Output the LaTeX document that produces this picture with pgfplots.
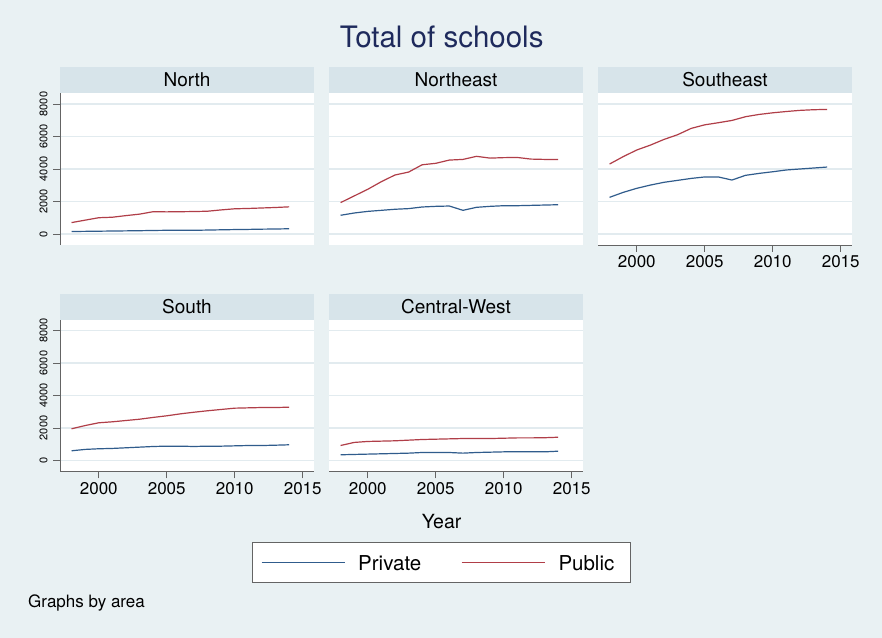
\documentclass[border=0pt]{standalone}
\usepackage{fontspec}
\setmainfont{TeX Gyre Heros}
\usepackage{pgfplots}
\usepackage{pgfplotstable}
\pgfplotsset{compat=1.18}

\definecolor{bgc}{RGB}{233,241,243}
\definecolor{stripc}{RGB}{215,228,234}
\definecolor{gridc}{RGB}{226,235,239}
\definecolor{privc}{RGB}{48,92,140}
\definecolor{pubc}{RGB}{176,62,72}
\definecolor{titlec}{RGB}{30,42,92}
\definecolor{axc}{RGB}{100,100,100}

% year, private, public
\pgfplotstableread{
year priv pub
1998 150 700
1999 160 850
2000 170 1000
2001 180 1030
2002 190 1130
2003 200 1220
2004 215 1370
2005 225 1360
2006 230 1370
2007 225 1380
2008 240 1400
2009 255 1480
2010 270 1550
2011 280 1570
2012 295 1600
2013 305 1630
2014 320 1670
}\north

\pgfplotstableread{
year priv pub
1998 1150 1930
1999 1290 2340
2000 1390 2750
2001 1455 3220
2002 1520 3630
2003 1560 3810
2004 1660 4260
2005 1700 4350
2006 1720 4550
2007 1455 4590
2008 1640 4780
2009 1700 4670
2010 1740 4700
2011 1740 4710
2012 1760 4610
2013 1780 4590
2014 1800 4590
}\northeast

\pgfplotstableread{
year priv pub
1998 2255 4305
1999 2560 4760
2000 2810 5170
2001 3010 5470
2002 3180 5820
2003 3300 6110
2004 3420 6500
2005 3510 6720
2006 3510 6850
2007 3320 6990
2008 3610 7220
2009 3730 7360
2010 3830 7460
2011 3940 7540
2012 4000 7610
2013 4060 7650
2014 4120 7670
}\southeast

\pgfplotstableread{
year priv pub
1998 595 1950
1999 680 2150
2000 720 2320
2001 740 2380
2002 780 2460
2003 820 2540
2004 860 2650
2005 880 2750
2006 880 2870
2007 860 2970
2008 880 3060
2009 880 3140
2010 900 3220
2011 920 3240
2012 920 3260
2013 940 3260
2014 965 3280
}\south

\pgfplotstableread{
year priv pub
1998 350 920
1999 370 1110
2000 390 1170
2001 410 1190
2002 430 1210
2003 450 1250
2004 490 1290
2005 490 1310
2006 490 1330
2007 450 1350
2008 490 1350
2009 510 1350
2010 530 1370
2011 530 1390
2012 530 1390
2013 530 1400
2014 570 1430
}\centralwest

\pgfplotsset{
  panel/.style={
    scale only axis, width=254bp, height=152bp,
    anchor=south west,
    xmin=1997.15, xmax=2015.83, ymin=-680, ymax=8680,
    axis x line*=bottom, axis y line*=left,
    axis background/.style={fill=white},
    xtick={2000,2005,2010,2015}, ytick={0,2000,...,8000},
    ymajorgrids, major grid style={gridc, line width=1.2bp},
    tick align=outside, major tick length=7bp,
    tick style={axc, line width=0.8bp},
    axis line style={axc, line width=0.8bp},
    /pgf/number format/assume math mode=true,
    /pgf/number format/1000 sep={},
    xticklabel style={font=\fontsize{17bp}{20bp}\selectfont},
    yticklabel style={font=\fontsize{11bp}{13bp}\selectfont, rotate=90, anchor=south, yshift=2bp},
  },
  noxaxis/.style={x axis line style={draw=none}, xticklabels={}, xtick style={draw=none}},
  noyaxis/.style={y axis line style={draw=none}, yticklabels={}, ytick style={draw=none}},
  priv/.style={privc, line width=1.2bp, no marks},
  pub/.style={pubc, line width=1.2bp, no marks},
}

\newcommand{\strip}[2]{%
  \fill[stripc] (#1.north west) rectangle ([yshift=26bp]#1.north east);
  \node[font=\fontsize{19bp}{22bp}\selectfont, inner sep=0] at ([yshift=13bp]#1.north) {#2};
}

\begin{document}
\begin{tikzpicture}
\fill[bgc] (0,0) rectangle (882bp,638bp);
\useasboundingbox (0,0) rectangle (882bp,638bp);

\begin{axis}[panel, noxaxis, name=p1, at={(60bp,393bp)}]
\addplot[priv] table[x=year, y=priv] {\north};
\addplot[pub] table[x=year, y=pub] {\north};
\end{axis}

\begin{axis}[panel, noxaxis, noyaxis, name=p2, at={(329bp,393bp)}]
\addplot[priv] table[x=year, y=priv] {\northeast};
\addplot[pub] table[x=year, y=pub] {\northeast};
\end{axis}

\begin{axis}[panel, noyaxis, name=p3, at={(598bp,393bp)}]
\addplot[priv] table[x=year, y=priv] {\southeast};
\addplot[pub] table[x=year, y=pub] {\southeast};
\end{axis}

\begin{axis}[panel, name=p4, at={(60bp,166.5bp)}]
\addplot[priv] table[x=year, y=priv] {\south};
\addplot[pub] table[x=year, y=pub] {\south};
\end{axis}

\begin{axis}[panel, noyaxis, name=p5, at={(329bp,166.5bp)}]
\addplot[priv] table[x=year, y=priv] {\centralwest};
\addplot[pub] table[x=year, y=pub] {\centralwest};
\end{axis}

\strip{p1}{North}
\strip{p2}{Northeast}
\strip{p3}{Southeast}
\strip{p4}{South}
\strip{p5}{Central-West}

\node[titlec, font=\fontsize{29.5bp}{34bp}\selectfont, inner sep=0] at (441.7bp,601bp) {Total of schools};
\node[font=\fontsize{19.5bp}{23bp}\selectfont, inner sep=0] at (441.7bp,116bp) {Year};
\node[font=\fontsize{17bp}{20bp}\selectfont, inner sep=0, anchor=west] at (28bp,35bp) {Graphs by area};

% legend
\draw[axc, line width=1bp, fill=white] (252.7bp,55.3bp) rectangle (630.7bp,95.3bp);
\draw[privc, line width=1.5bp] (261.7bp,75.3bp) -- (345bp,75.3bp);
\node[font=\fontsize{20.5bp}{24bp}\selectfont, inner sep=0, anchor=west] at (358bp,75.3bp) {Private};
\draw[pubc, line width=1.5bp] (461.7bp,75.3bp) -- (545bp,75.3bp);
\node[font=\fontsize{20.5bp}{24bp}\selectfont, inner sep=0, anchor=west] at (558.3bp,75.3bp) {Public};
\end{tikzpicture}
\end{document}
